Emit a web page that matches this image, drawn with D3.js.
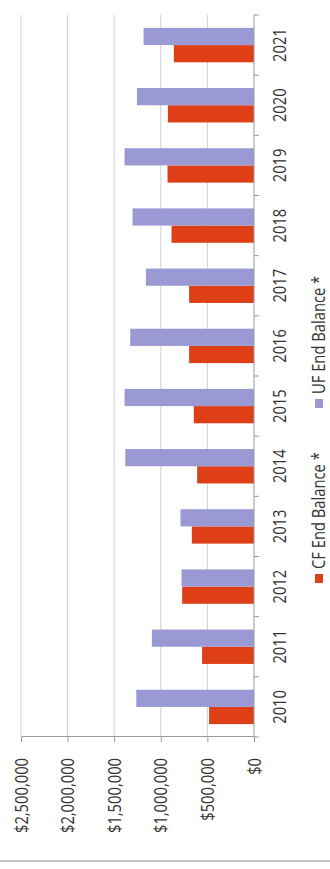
<!DOCTYPE html>
<html>
<head>
<meta charset="utf-8">
<script src="https://cdn.jsdelivr.net/npm/d3@7"></script>
<style>
  body { margin: 0; background: #fff; }
  svg { display: block; }
  text { font-family: "Open Sans", sans-serif; fill: #333; }
</style>
</head>
<body>
<div id="chart"></div>
<script>
// data
const years = ["2010", "2011", "2012", "2013", "2014", "2015", "2016", "2017", "2018", "2019", "2020", "2021"];
const cfEndBalance = [482000, 557000, 771000, 667000, 610000, 646000, 696000, 696000, 885000, 928000, 924000, 860000];
const ufEndBalance = [1263000, 1096000, 778000, 789000, 1381000, 1389000, 1328000, 1160000, 1303000, 1389000, 1256000, 1185000];
const seriesNames = ["CF End Balance *", "UF End Balance *"];
const valueTicks = [0, 500000, 1000000, 1500000, 2000000, 2500000];

/*******************************/
/*    Declare the constants    */
/*******************************/
const width = 330;
const height = 869;
// the chart is drawn upright, then turned a quarter to the left
const innerWidth = 722;   // category axis length
const innerHeight = 233;  // value axis length
const origin = {x: 21, y: 737};
const colors = ["#de3f17", "#9a99d4"];
const squash = 0.82;      // glyphs look narrow in the picture

const rows = years.map((y, i) => ({year: y, values: [cfEndBalance[i], ufEndBalance[i]]}));

const svg = d3.select("#chart")
  .append("svg")
    .attr("width", width)
    .attr("height", height);

const innerChart = svg
  .append("g")
    .attr("transform", `translate(${origin.x}, ${origin.y}) rotate(-90)`);

/*********************************/
/*    Declare scales             */
/*********************************/
const xScale = d3.scaleBand()
  .domain(years)
  .range([0, innerWidth])
  .padding(0);

const subScale = d3.scaleBand()
  .domain([0, 1])
  .range([0, xScale.bandwidth()])
  .paddingInner(0)
  .paddingOuter(0.75);

const yScale = d3.scaleLinear()
  .domain([0, 2500000])
  .range([innerHeight, 0]);

/*********************************/
/*    Gridlines                  */
/*********************************/
innerChart.append("g")
  .selectAll("line")
  .data(valueTicks.filter(d => d > 0))
  .join("line")
    .attr("x1", 0)
    .attr("x2", innerWidth)
    .attr("y1", d => yScale(d))
    .attr("y2", d => yScale(d))
    .attr("stroke", "#cfcfcf")
    .attr("stroke-width", 1);

/*********************************/
/*    Bars                       */
/*********************************/
innerChart.append("g")
  .selectAll("g")
  .data(rows)
  .join("g")
    .attr("transform", d => `translate(${xScale(d.year)}, 0)`)
  .selectAll("rect")
  .data(d => d.values.map((v, i) => ({i, v})))
  .join("rect")
    .attr("x", d => subScale(d.i))
    .attr("width", subScale.bandwidth())
    .attr("y", d => yScale(d.v))
    .attr("height", d => innerHeight - yScale(d.v))
    .attr("fill", d => colors[d.i]);

/*********************************/
/*    Axes                       */
/*********************************/
// value axis (bottom of the page once turned)
const leftAxis = d3.axisLeft(yScale)
  .tickValues(valueTicks)
  .tickFormat(d3.format("$,"))
  .tickSize(5);
const leftG = innerChart.append("g").call(leftAxis);
leftG.select(".domain").attr("stroke", "#9a9a9a");
leftG.selectAll(".tick line").attr("stroke", "#9a9a9a");
leftG.selectAll(".tick text")
  .attr("x", -21 / squash)
  .attr("dy", "0.34em")
  .attr("transform", `scale(${squash}, 1)`)
  .style("font-size", "18px")
  .style("font-family", "'Open Sans', sans-serif")
  .attr("fill", "#333");

// category axis
const catG = innerChart.append("g")
  .attr("transform", `translate(0, ${innerHeight})`);
catG.append("line")
  .attr("x1", 0).attr("x2", innerWidth)
  .attr("stroke", "#9a9a9a");
catG.selectAll(".cat-tick")
  .data(years.concat(["end"]))
  .join("line")
    .attr("class", "cat-tick")
    .attr("x1", d => d === "end" ? innerWidth : xScale(d))
    .attr("x2", d => d === "end" ? innerWidth : xScale(d))
    .attr("y1", 0)
    .attr("y2", 5)
    .attr("stroke", "#9a9a9a");
catG.selectAll(".cat-label")
  .data(years)
  .join("text")
    .attr("class", "cat-label")
    .attr("transform", d => `translate(${xScale(d) + xScale.bandwidth() / 2}, 26) scale(${squash}, 1)`)
    .attr("text-anchor", "middle")
    .attr("dy", "0.35em")
    .style("font-size", "18px")
    .text(d => d);

/*********************************/
/*    Legend                     */
/*********************************/
const legendPos = [154, 329];
const legend = innerChart.append("g")
  .attr("transform", `translate(0, ${innerHeight + 65})`);
const item = legend.selectAll("g")
  .data(seriesNames)
  .join("g")
    .attr("transform", (d, i) => `translate(${legendPos[i]}, 0)`);
item.append("rect")
  .attr("x", 0)
  .attr("y", -4)
  .attr("width", 9)
  .attr("height", 8)
  .attr("fill", (d, i) => colors[i]);
item.append("text")
  .attr("transform", `translate(14, 0) scale(${squash}, 1)`)
  .attr("dy", "0.35em")
  .style("font-size", "18px")
  .text(d => d);

// page rule under the chart
svg.append("line")
  .attr("x1", 0).attr("x2", width)
  .attr("y1", 861).attr("y2", 861)
  .attr("stroke", "#8f8f8f")
  .attr("stroke-width", 1);
</script>
</body>
</html>
